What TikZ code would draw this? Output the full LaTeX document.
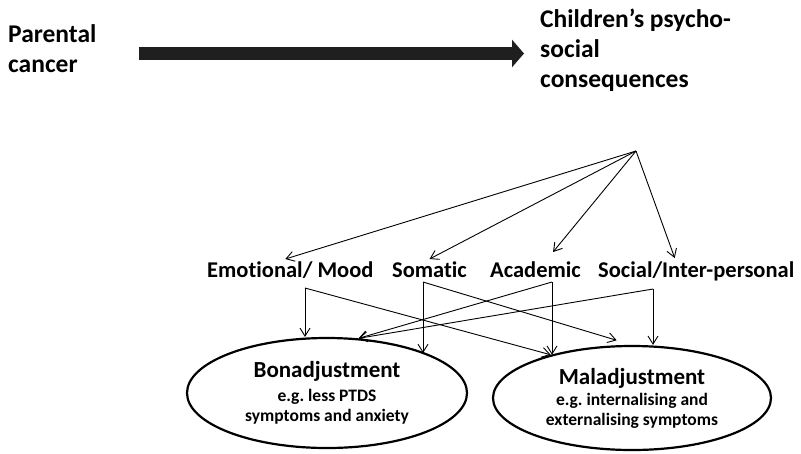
\documentclass[tikz,border=0pt]{standalone}
\usepackage{fontspec}
\setmainfont{Carlito}[Ligatures={TeX,NoCommon}]
\usetikzlibrary{arrows.meta, positioning, shapes.geometric}

\begin{document}
\begin{tikzpicture}[
        x=1pt, y=1pt,
        >={Straight Barb[length=8pt,width=10pt]},
        every node/.style={font=\bfseries\fontsize{22.5}{27}\selectfont, inner sep=0pt},
        heading/.style={align=left, anchor=base west, font=\bfseries\fontsize{25.5}{30}\selectfont},
        facet/.style={anchor=base west},
        outcome/.style={ellipse, draw, line width=2.2pt, minimum width=280pt,
            minimum height=110pt, align=center,
            font=\bfseries\fontsize{17.5}{20}\selectfont},
        link/.style={->, line width=0.9pt},
        bigarrow/.style={-{Triangle[length=12pt,width=27pt]}, line width=13pt, draw=black!88}
    ]
        \useasboundingbox (0,0) rectangle (801,-453);

        % top row (anchor is the baseline of the last line)
        \node[heading] (parental) at (8,-72) {Parental\\cancer};
        \node[heading] (children) at (540,-87) {Children’s psycho-\\social\\consequences};
        \draw[bigarrow, shorten >=16pt] (parental.east |- 0,-53.5) ++(42,0) -- (children.west |- 0,-53.5);

        % the four kinds of consequences
        \coordinate (hub) at (636,-151);
        \node[facet] (emo) at (207,-277) {Emotional/ Mood};
        \node[facet] (som) at (392,-277) {Somatic};
        \node[facet] (aca) at (490,-277) {Academic};
        \node[facet] (soc) at (598,-277) {Social/Inter-personal};

        \draw[link] (hub) -- ([xshift=-5pt,yshift=2pt]emo.north);
        \draw[link] (hub) -- ([yshift=2pt]som.north);
        \draw[link] (hub) -- ([xshift=17.5pt,yshift=9pt]aca.north);
        \draw[link] (hub) -- ([xshift=-21.5pt,yshift=3pt]soc.north);

        % outcomes
        \node[outcome] (bon) at (327,-393)
            {{\fontsize{23}{24}\selectfont Bonadjustment}\\[4pt] e.g.\ less PTDS\\ symptoms and anxiety};
        \node[outcome, minimum width=278pt, minimum height=104pt] (mal) at (632,-398)
            {{\fontsize{23}{24}\selectfont Maladjustment}\\[1pt] e.g.\ internalising and\\ externalising symptoms};

        \coordinate (emoB) at (305,-288);
        \coordinate (somB) at (423,-282);
        \coordinate (acaB) at (552,-282);
        \coordinate (socB) at (653,-289);

        \draw[link] (emoB) -- (emoB |- bon.north);
        \draw[link] (emoB) -- (mal.152);
        \draw[link] (somB) -- (somB |- bon.22);
        \draw[link, shorten >=16pt] (somB) -- (mal.north);
        \draw[link] (acaB) -- (acaB |- mal.152);
        \draw[link] (acaB) -- (bon.60);
        \draw[link] (socB) -- (socB |- mal.north);
        \draw[link] (socB) -- (bon.60);
    \end{tikzpicture}
\end{document}
